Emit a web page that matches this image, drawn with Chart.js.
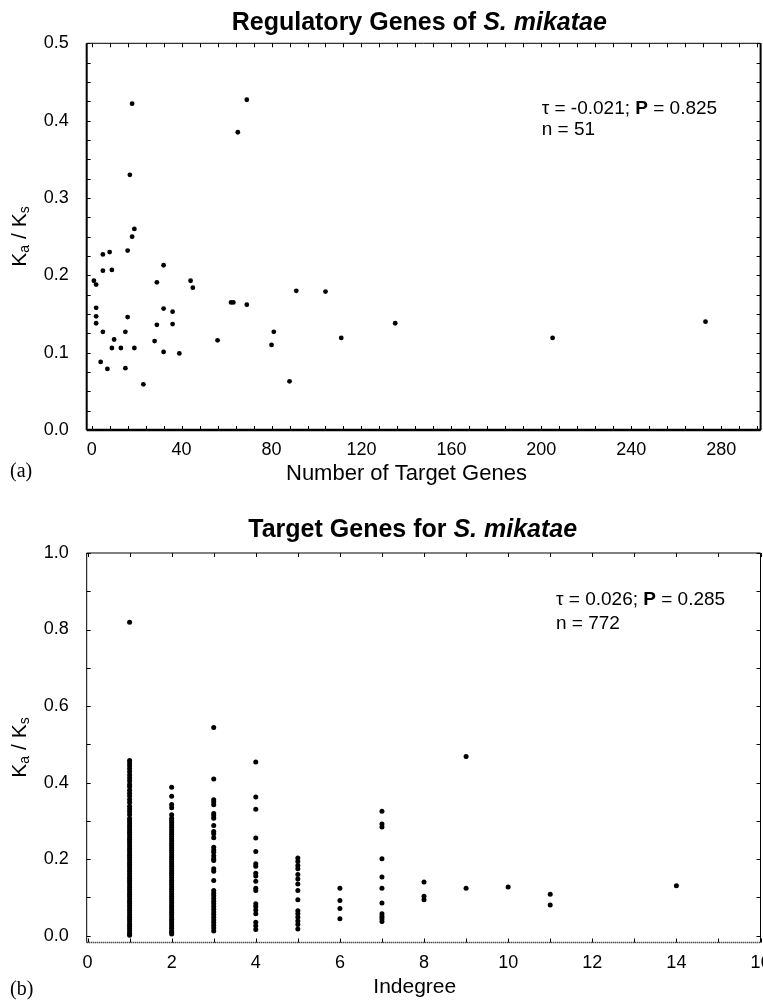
<!DOCTYPE html>
<html>
<head>
<meta charset="utf-8">
<title>Ka/Ks of S. mikatae</title>
<script src="https://cdn.jsdelivr.net/npm/chart.js@4.4.0/dist/chart.umd.min.js"></script>
<style>
  html, body { margin: 0; padding: 0; background: #fff; overflow: hidden; }
  canvas { display: block; }
</style>
</head>
<body>
<canvas id="chartA" width="763" height="500"></canvas>
<canvas id="chartB" width="763" height="507"></canvas>
<script>
// --- (a) regulatory genes: number of target genes vs Ka/Ks ---
const regTargets = [18, 69, 65, 17, 19, 18, 5, 8, 16, 5, 9, 32, 1, 2, 29, 44, 45, 91, 62, 63,
    69, 2, 32, 36, 2, 16, 2, 29, 36, 5, 15, 81, 10, 28, 56, 9, 13, 19, 80, 32,
    39, 4, 7, 15, 23, 88, 104, 111, 135, 205, 273];
const regKaKs = [0.422, 0.427, 0.385, 0.330, 0.260, 0.250, 0.227, 0.230, 0.232, 0.206, 0.207, 0.213,
    0.193, 0.188, 0.191, 0.193, 0.184, 0.180, 0.165, 0.165, 0.162, 0.158, 0.157, 0.153, 0.147,
    0.146, 0.138, 0.136, 0.137, 0.127, 0.127, 0.127, 0.117, 0.115, 0.116, 0.106, 0.106, 0.106,
    0.110, 0.101, 0.099, 0.088, 0.079, 0.080, 0.059, 0.063, 0.179, 0.119, 0.138, 0.119, 0.140];
const ticksA_y = [0.0, 0.1, 0.2, 0.3, 0.4, 0.5];
const ticksA_x = [0, 40, 80, 120, 160, 200, 240, 280];

// --- (b) target genes: indegree vs Ka/Ks (one array per indegree) ---
const deg1 = [0.819, 0.458, 0.451, 0.444, 0.436, 0.428, 0.420, 0.412, 0.404, 0.395, 0.389, 0.380,
    0.372, 0.365, 0.356, 0.348, 0.338, 0.331, 0.324, 0.316, 0.306, 0.300, 0.294, 0.288, 0.282,
    0.276, 0.270, 0.264, 0.258, 0.252, 0.246, 0.240, 0.234, 0.228, 0.222, 0.216, 0.210, 0.204,
    0.198, 0.192, 0.186, 0.180, 0.174, 0.168, 0.162, 0.156, 0.150, 0.144, 0.138, 0.132, 0.126,
    0.120, 0.114, 0.108, 0.102, 0.096, 0.090, 0.084, 0.078, 0.072, 0.066, 0.060, 0.054, 0.048,
    0.042, 0.036, 0.030, 0.024, 0.018, 0.012, 0.006, 0.001];
const deg2 = [0.388, 0.364, 0.343, 0.334, 0.316, 0.307, 0.301, 0.295, 0.289, 0.283, 0.277, 0.271,
    0.265, 0.259, 0.253, 0.247, 0.241, 0.235, 0.229, 0.223, 0.217, 0.211, 0.205, 0.199, 0.193,
    0.187, 0.181, 0.175, 0.169, 0.163, 0.157, 0.151, 0.145, 0.139, 0.133, 0.127, 0.121, 0.115,
    0.109, 0.103, 0.097, 0.091, 0.085, 0.079, 0.073, 0.067, 0.061, 0.055, 0.049, 0.043, 0.037,
    0.031, 0.025, 0.019, 0.013, 0.008, 0.004];
const deg3 = [0.544, 0.409, 0.355, 0.349, 0.342, 0.319, 0.313, 0.307, 0.288, 0.272, 0.266, 0.256,
    0.231, 0.224, 0.218, 0.209, 0.201, 0.196, 0.175, 0.168, 0.144, 0.118, 0.111, 0.104, 0.097,
    0.090, 0.083, 0.076, 0.069, 0.062, 0.055, 0.048, 0.041, 0.034, 0.027, 0.020, 0.012];
const deg4 = [0.454, 0.362, 0.330, 0.255, 0.220, 0.188, 0.181, 0.163, 0.156, 0.142, 0.124, 0.118,
    0.083, 0.076, 0.067, 0.057, 0.035, 0.026, 0.016];
const deg5 = [0.203, 0.194, 0.183, 0.175, 0.160, 0.148, 0.135, 0.118, 0.094, 0.065, 0.057, 0.048,
    0.038, 0.029, 0.017];
const deg6 = [0.124, 0.092, 0.071, 0.044];
const deg7 = [0.325, 0.292, 0.284, 0.201, 0.153, 0.124, 0.085, 0.057, 0.050, 0.044, 0.037];
const deg8 = [0.140, 0.103, 0.094];
const deg9 = [0.468, 0.124];
const deg10 = [0.127];
const deg11 = [0.108, 0.080];
const deg14 = [0.130];
const ticksB_y = [0.0, 0.2, 0.4, 0.6, 0.8, 1.0];
const ticksB_x = [0, 2, 4, 6, 8, 10, 12, 14, 16];

const SANS = '"Liberation Sans", Arial, Helvetica, sans-serif';
const SERIF = '"Liberation Serif", "Times New Roman", serif';

// draws a line of mixed-style text pieces
function drawRuns(ctx, x, y, runs, rotate) {
    ctx.save();
    ctx.translate(x, y);
    if (rotate) ctx.rotate(rotate);
    ctx.textBaseline = 'middle';
    ctx.textAlign = 'left';
    ctx.fillStyle = '#000';
    let w = 0;
    runs.forEach(r => { ctx.font = r.font; w += ctx.measureText(r.text).width; });
    let cx = rotate ? -w / 2 : 0;
    runs.forEach(r => {
        ctx.font = r.font;
        ctx.fillText(r.text, cx, r.dy || 0);
        cx += ctx.measureText(r.text).width;
    });
    ctx.restore();
}

// frame, inward ticks and the panel texts
function makeFrame(cfg) {
    return {
        id: 'frame',
        afterDraw(chart) {
            const { ctx, chartArea: a, scales: { x, y } } = chart;
            ctx.save();
            ctx.strokeStyle = '#000';
            const line = (x1, y1, x2, y2, w, dash) => {
                ctx.lineWidth = w;
                ctx.setLineDash(dash || []);
                ctx.beginPath(); ctx.moveTo(x1, y1); ctx.lineTo(x2, y2); ctx.stroke();
            };
            const b = cfg.border;
            line(a.left, a.top, a.right, a.top, b.top);
            line(a.right, a.top, a.right, a.bottom, b.right);
            line(a.left, a.top, a.left, a.bottom, b.left);
            line(a.left, a.bottom, a.right, a.bottom, b.bottom, cfg.bottomDash);
            ctx.setLineDash([]);
            ctx.lineWidth = 1;
            for (let v = Math.ceil(x.min / cfg.xMinor) * cfg.xMinor; v <= x.max + 1e-9; v += cfg.xMinor) {
                const px = Math.round(x.getPixelForValue(v)) + 0.5;
                line(px, a.bottom, px, a.bottom - cfg.tickLen, 1);
                line(px, a.top, px, a.top + cfg.tickLen, 1);
            }
            for (let v = Math.ceil(y.min / cfg.yMinor - 1e-9) * cfg.yMinor; v <= y.max + 1e-9; v += cfg.yMinor) {
                const py = Math.round(y.getPixelForValue(v)) + 0.5;
                line(a.left, py, a.left + cfg.tickLen, py, 1);
                line(a.right, py, a.right - cfg.tickLen, py, 1);
            }
            ctx.restore();
            cfg.texts.forEach(t => drawRuns(ctx, t.x, t.y, t.runs, t.rotate));
        }
    };
}

function kaksTitle(x, y) {
    return {
        x, y, rotate: -Math.PI / 2, runs: [
            { text: 'K', font: '21px ' + SANS },
            { text: 'a', font: '14px ' + SANS, dy: 5 },
            { text: ' / K', font: '21px ' + SANS },
            { text: 's', font: '14px ' + SANS, dy: 5 }
        ]
    };
}

function scatterChart(id, points, o) {
    return new Chart(document.getElementById(id), {
        type: 'scatter',
        data: {
            datasets: [{
                data: points,
                pointRadius: o.radius,
                pointBackgroundColor: '#000',
                pointBorderWidth: 0,
                pointHoverRadius: o.radius
            }]
        },
        options: {
            responsive: false,
            animation: false,
            events: [],
            layout: { padding: o.padding },
            plugins: { legend: { display: false }, tooltip: { enabled: false } },
            scales: {
                x: {
                    type: 'linear', min: o.xMin, max: o.xMax,
                    grid: { display: false }, border: { display: false },
                    afterBuildTicks: s => { s.ticks = o.xTicks.map(v => ({ value: v })); },
                    ticks: {
                        padding: o.xPad, color: '#000', autoSkip: false, maxRotation: 0,
                        font: { family: SANS, size: 18 }
                    },
                    afterFit: s => { s.height = o.xHeight; s.paddingLeft = 0; s.paddingRight = 0; }
                },
                y: {
                    type: 'linear', min: o.yMin, max: o.yMax,
                    grid: { display: false }, border: { display: false },
                    afterBuildTicks: s => { s.ticks = o.yTicks.map(v => ({ value: v })); },
                    ticks: {
                        padding: 10, color: '#000',
                        font: { family: SANS, size: 18 },
                        callback: v => Number(v).toFixed(1)
                    },
                    afterFit: s => { s.width = 86.7; s.paddingTop = 0; s.paddingBottom = 0; }
                }
            }
        },
        plugins: [makeFrame(o.frame)]
    });
}

// panel (a)
scatterChart('chartA', regTargets.map((v, i) => ({ x: v, y: regKaKs[i] })), {
    radius: 2.4,
    padding: { top: 43.3, right: 2, left: 0, bottom: 0 },
    xMin: -2.2, xMax: 297.5, yMin: 0, yMax: 0.5,
    xTicks: ticksA_x, yTicks: ticksA_y,
    xPad: 1, xHeight: 70,
    frame: {
        border: { top: 1, right: 2, left: 2, bottom: 2.5 },
        xMinor: 8, yMinor: 0.025, tickLen: 4,
        texts: [
            { x: 231.7, y: 23.3, runs: [
                { text: 'Regulatory Genes of ', font: 'bold 25px ' + SANS },
                { text: 'S. mikatae', font: 'italic bold 25px ' + SANS }] },
            { x: 541.7, y: 108.3, runs: [
                { text: '\u03c4 = -0.021; ', font: '19px ' + SANS },
                { text: 'P', font: 'bold 19px ' + SANS },
                { text: ' = 0.825', font: '19px ' + SANS }] },
            { x: 541.7, y: 130, runs: [{ text: 'n = 51', font: '19px ' + SANS }] },
            { x: 286, y: 474.3, runs: [{ text: 'Number of Target Genes', font: '22px ' + SANS }] },
            { x: 10, y: 471.7, runs: [{ text: '(a)', font: '20px ' + SERIF }] },
            kaksTitle(20, 236.5)
        ]
    }
});

// panel (b)
const degCols = [[1, deg1], [2, deg2], [3, deg3], [4, deg4], [5, deg5], [6, deg6], [7, deg7],
    [8, deg8], [9, deg9], [10, deg10], [11, deg11], [14, deg14]];
const pointsB = [];
degCols.forEach(([d, vals]) => vals.forEach(v => pointsB.push({ x: d, y: v })));

scatterChart('chartB', pointsB, {
    radius: 2.5,
    padding: { top: 53, right: 1, left: 0, bottom: 0 },
    xMin: -0.02, xMax: 16, yMin: -0.018, yMax: 1.0,
    xTicks: ticksB_x, yTicks: ticksB_y,
    xPad: 2, xHeight: 64.5,
    frame: {
        border: { top: 1, right: 1, left: 1, bottom: 1.5 },
        bottomDash: [1, 1],
        xMinor: 1, yMinor: 0.1, tickLen: 4,
        texts: [
            { x: 248.3, y: 30, runs: [
                { text: 'Target Genes for ', font: 'bold 25px ' + SANS },
                { text: 'S. mikatae', font: 'italic bold 25px ' + SANS }] },
            { x: 556, y: 100, runs: [
                { text: '\u03c4 = 0.026; ', font: '19px ' + SANS },
                { text: 'P', font: 'bold 19px ' + SANS },
                { text: ' = 0.285', font: '19px ' + SANS }] },
            { x: 556, y: 123.3, runs: [{ text: 'n = 772', font: '19px ' + SANS }] },
            { x: 373.3, y: 487.3, runs: [{ text: 'Indegree', font: '21px ' + SANS }] },
            { x: 10, y: 490, runs: [{ text: '(b)', font: '20px ' + SERIF }] },
            kaksTitle(20, 247.5)
        ]
    }
});
</script>
</body>
</html>
